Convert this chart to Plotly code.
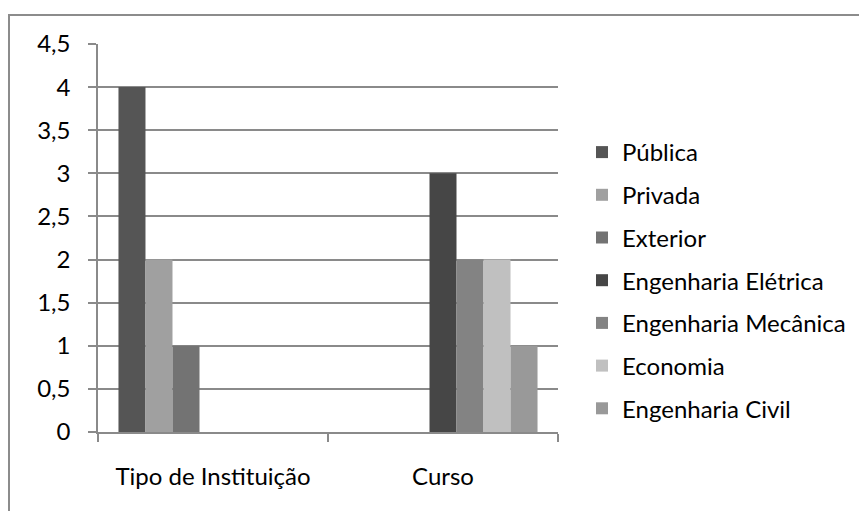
import plotly.graph_objects as go

categories = ["Tipo de Instituição", "Curso"]
series_names = [
    "Pública",
    "Privada",
    "Exterior",
    "Engenharia Elétrica",
    "Engenharia Mecânica",
    "Economia",
    "Engenharia Civil",
]
publica = [4, 0]
privada = [2, 0]
exterior = [1, 0]
eng_eletrica = [0, 3]
eng_mecanica = [0, 2]
economia = [0, 2]
eng_civil = [0, 1]
y_ticks = [0, 0.5, 1, 1.5, 2, 2.5, 3, 3.5, 4, 4.5]

series_values = [publica, privada, exterior, eng_eletrica, eng_mecanica, economia, eng_civil]
colors = ["#555555", "#a0a0a0", "#737373", "#464646", "#838383", "#c0c0c0", "#999999"]

FONT = "Lato"
FS = 24
# page body has an 8px margin, so work in figure coordinates offset by 8
OFF = 8
W, H = 867 - OFF, 511 - OFF
L, R, T, B = 98 - OFF, 558 - OFF, 44 - OFF, 432 - OFF


def px_x(p):
    return (p - OFF - L) / (R - L)


def px_y(p):
    return 1 - (p - OFF - T) / (B - T)


fig = go.Figure()
for name, vals, col in zip(series_names, series_values, colors):
    fig.add_trace(
        go.Bar(
            x=categories,
            y=vals,
            name=name,
            legendgroup=name,
            marker={"color": col, "line": {"width": 0}},
        )
    )

fig.update_layout(
    width=W,
    height=H,
    margin={"l": L, "r": W - R, "t": T, "b": H - B, "pad": 0},
    paper_bgcolor="white",
    plot_bgcolor="white",
    barmode="group",
    bargap=0.178,
    bargroupgap=0,
    separators=",.",
    font={"family": FONT, "size": FS, "color": "#000000"},
    legend={
        "x": px_x(582),
        "y": px_y(130),
        "xanchor": "left",
        "yanchor": "top",
        "traceorder": "grouped",
        "tracegroupgap": 8.5,
        "font": {"family": FONT, "size": FS, "color": "#000000"},
        "bgcolor": "rgba(0,0,0,0)",
        "itemwidth": 30,
    },
    shapes=[
        {
            "type": "rect",
            "xref": "paper",
            "yref": "paper",
            "x0": px_x(9),
            "x1": px_x(900),
            "y0": px_y(540),
            "y1": px_y(15),
            "line": {"color": "#8c8c8c", "width": 2},
            "layer": "below",
        }
    ],
)

fig.update_yaxes(
    range=[0, 4.5],
    tickvals=y_ticks,
    showgrid=True,
    gridcolor="#8a8a8a",
    gridwidth=1.5,
    zeroline=False,
    showline=True,
    linecolor="#8a8a8a",
    linewidth=1.5,
    ticks="outside",
    ticklen=8,
    tickcolor="#8a8a8a",
    tickwidth=1.5,
    ticklabelstandoff=13,
    tickfont={"family": FONT, "size": FS, "color": "#000000"},
)
fig.update_xaxes(
    showline=True,
    linecolor="#8a8a8a",
    linewidth=1.5,
    ticks="outside",
    tickson="boundaries",
    ticklen=8,
    tickcolor="#8a8a8a",
    tickwidth=1.5,
    ticklabelstandoff=22,
    tickfont={"family": FONT, "size": FS, "color": "#000000"},
)

fig.write_html("out.html")
